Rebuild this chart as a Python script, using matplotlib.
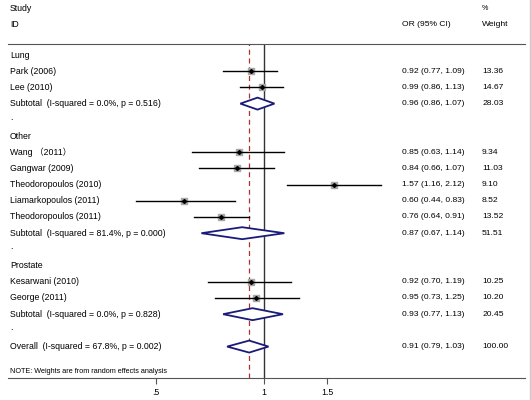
import matplotlib
matplotlib.use('Agg')
import matplotlib.pyplot as plt
import matplotlib.transforms as mtransforms
from matplotlib.patches import Polygon

plt.rcParams['font.family'] = ['Liberation Sans', 'Noto Sans CJK SC']

# Study level data
groups = ['Lung', 'Other', 'Prostate']
studies = [
    ['Park (2006)', 'Lee (2010)'],
    ['Wang （2011）', 'Gangwar (2009)', 'Theodoropoulos (2010)',
     'Liamarkopoulos (2011)', 'Theodoropoulos (2011)'],
    ['Kesarwani (2010)', 'George (2011)'],
]
odds = [[0.92, 0.99], [0.85, 0.84, 1.57, 0.60, 0.76], [0.92, 0.95]]
lower = [[0.77, 0.86], [0.63, 0.66, 1.16, 0.44, 0.64], [0.70, 0.73]]
upper = [[1.09, 1.13], [1.14, 1.07, 2.12, 0.83, 0.91], [1.19, 1.25]]
weights = [[13.36, 14.67], [9.34, 11.03, 9.10, 8.52, 13.52], [10.25, 10.20]]

# Subtotals
sub_labels = ['Subtotal  (I-squared = 0.0%, p = 0.516)',
              'Subtotal  (I-squared = 81.4%, p = 0.000)',
              'Subtotal  (I-squared = 0.0%, p = 0.828)']
sub_or = [0.96, 0.87, 0.93]
sub_lo = [0.86, 0.67, 0.77]
sub_hi = [1.07, 1.14, 1.13]
sub_w = [28.03, 51.51, 20.45]

# Overall
overall_label = 'Overall  (I-squared = 67.8%, p = 0.002)'
overall_or, overall_lo, overall_hi, overall_w = 0.91, 0.79, 1.03, 100.00

W, H = 531, 400
fig = plt.figure(figsize=(W / 100, H / 100), dpi=100)
ax = fig.add_axes([8 / W, (H - 378) / H, 517 / W, (378 - 44) / H])
ax.set_xscale('log')
ax.set_xlim(0.194, 5.33)
ax.set_ylim(19.94, -0.68)

navy = '#1a1a7a'
fs = 6.3      # label text
fn = 6.1      # number columns
tr = mtransforms.blended_transform_factory(ax.transAxes, ax.transData)
x_lab, x_or, x_w = 0.004, 0.762, 0.917


def ci_text(o, lo, hi):
    return '%.2f (%.2f, %.2f)' % (o, lo, hi)


def diamond(row, o, lo, hi):
    h = 0.37
    ax.add_patch(Polygon([(lo, row), (o, row - h), (hi, row), (o, row + h)],
                         closed=True, facecolor='white', edgecolor=navy,
                         lw=1.3, zorder=4))


def row_text(row, label, o, lo, hi, w):
    ax.text(x_lab, row, label, transform=tr, fontsize=fs, va='center')
    ax.text(x_or, row, ci_text(o, lo, hi), transform=tr, fontsize=fn, va='center')
    ax.text(x_w, row, '%.2f' % w, transform=tr, fontsize=fn, va='center')


row = 0
for g in range(len(groups)):
    ax.text(x_lab, row, groups[g], transform=tr, fontsize=fs, va='center')
    row += 1
    for s in range(len(studies[g])):
        o, lo, hi, w = odds[g][s], lower[g][s], upper[g][s], weights[g][s]
        ax.plot([lo, hi], [row, row], color='black', lw=1, zorder=3)
        ax.scatter([o], [row], marker='s', s=1.6 * w, color='#a8a8a8', zorder=2)
        ax.plot([o], [row], marker='D', ms=2, color='black', zorder=4)
        row_text(row, studies[g][s], o, lo, hi, w)
        row += 1
    diamond(row, sub_or[g], sub_lo[g], sub_hi[g])
    row_text(row, sub_labels[g], sub_or[g], sub_lo[g], sub_hi[g], sub_w[g])
    row += 1
    ax.text(x_lab, row - 0.15, '.', transform=tr, fontsize=fs, va='center')
    row += 1

# overall row directly after the last spacer
diamond(row, overall_or, overall_lo, overall_hi)
row_text(row, overall_label, overall_or, overall_lo, overall_hi, overall_w)
ax.text(x_lab, row + 1.55, 'NOTE: Weights are from random effects analysis',
        transform=tr, fontsize=5.2, va='center')

# headers
ax.text(x_lab, -2.9, 'Study', transform=tr, fontsize=fs, va='center')
ax.text(x_lab, -1.91, 'ID', transform=tr, fontsize=fs, va='center')
ax.text(x_or, -1.91, 'OR (95% CI)', transform=tr, fontsize=fn, va='center')
ax.text(x_w, -2.9, '%', transform=tr, fontsize=fn - 1, va='center')
ax.text(x_w, -1.91, 'Weight', transform=tr, fontsize=fn, va='center')

ax.axvline(1, color='#333333', lw=1, zorder=1)
ax.axvline(overall_or, color='#b03030', lw=0.9, ls=(0, (4, 3)), zorder=1)

for side in ['left', 'right']:
    ax.spines[side].set_visible(False)
ax.spines['top'].set_color('#555555')
ax.spines['bottom'].set_color('#555555')
ax.set_yticks([])
ax.set_xticks([0.5, 1, 1.5])
ax.set_xticklabels(['.5', '1', '1.5'])
ax.xaxis.set_minor_locator(matplotlib.ticker.NullLocator())
ax.tick_params(axis='x', labelsize=fs, length=4, color='#555555')

fig.add_artist(plt.Line2D([529.5 / W, 529.5 / W], [0, 1], color='#cccccc', lw=1))

fig.savefig('out.png', dpi=100)
